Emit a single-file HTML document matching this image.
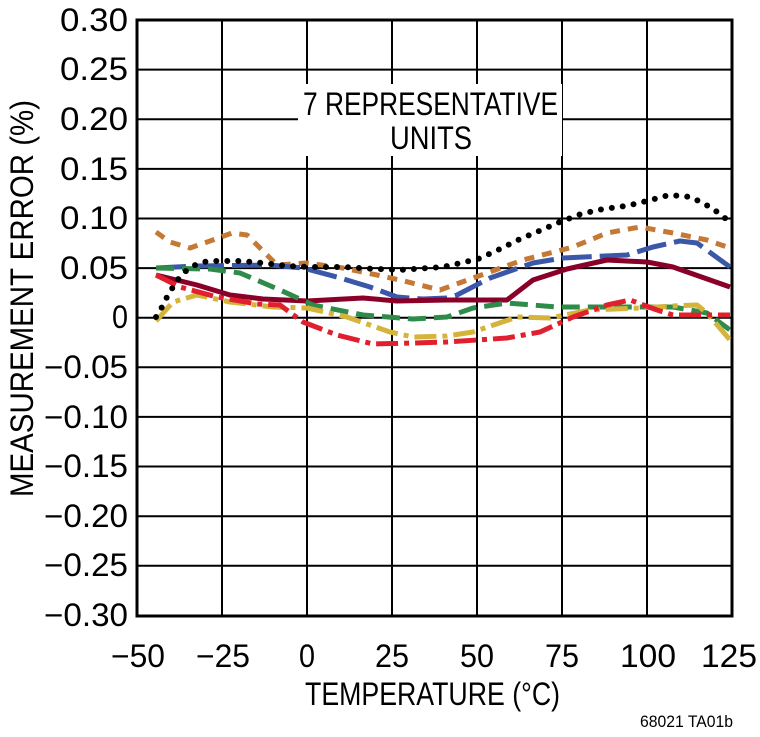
<!DOCTYPE html>
<html><head><meta charset="utf-8"><style>
html,body{margin:0;padding:0;background:#fff;}
svg{display:block;font-family:"Liberation Sans",sans-serif;}
</style></head><body>
<svg width="760" height="737" viewBox="0 0 760 737" xmlns="http://www.w3.org/2000/svg">
<g stroke="#000" stroke-width="2">
<line x1="222" y1="20" x2="222" y2="616"/><line x1="307" y1="20" x2="307" y2="616"/>
<line x1="392" y1="20" x2="392" y2="616"/><line x1="477" y1="20" x2="477" y2="616"/>
<line x1="562" y1="20" x2="562" y2="616"/><line x1="647" y1="20" x2="647" y2="616"/>
<line x1="137" y1="69.6" x2="732" y2="69.6"/><line x1="137" y1="119.2" x2="732" y2="119.2"/>
<line x1="137" y1="168.9" x2="732" y2="168.9"/><line x1="137" y1="218.5" x2="732" y2="218.5"/>
<line x1="137" y1="268.1" x2="732" y2="268.1"/><line x1="137" y1="317.7" x2="732" y2="317.7"/>
<line x1="137" y1="367.3" x2="732" y2="367.3"/><line x1="137" y1="416.9" x2="732" y2="416.9"/>
<line x1="137" y1="466.5" x2="732" y2="466.5"/><line x1="137" y1="516.2" x2="732" y2="516.2"/>
<line x1="137" y1="565.8" x2="732" y2="565.8"/>
</g>
<rect x="137" y="20" width="595" height="596" fill="none" stroke="#000" stroke-width="3"/>
<rect x="298" y="84" width="264" height="72" fill="#fff"/>
<g font-size="32" fill="#000">
<text x="303" y="115" textLength="255" lengthAdjust="spacingAndGlyphs">7 REPRESENTATIVE</text>
<text x="390" y="149" textLength="82" lengthAdjust="spacingAndGlyphs">UNITS</text>
</g>
<g fill="none" stroke-width="5" stroke-linejoin="round" stroke-linecap="butt">
<polyline stroke="#c47a35" stroke-dasharray="10,8" points="156,232 170,242 190,248 210,241 232,233 247,235 262,250 277,265 307,263 343,268 377,275 400,280 440,290 473,278 523,260 573,247 607,233 640,227 673,233 707,240 730,248"/>
<polyline stroke="#3b57a8" stroke-dasharray="30,8" points="156,268 197,266 270,265 303,268 337,277 370,287 397,297 423,299 447,298 457,295 490,278 533,263 563,258 627,255 653,247 680,241 697,243 730,267"/>
<polyline stroke="#8a0028" points="156,275 197,285 230,295 263,299 307,301 363,298 397,301 447,300 507,300 533,280 567,269 607,260 647,262 673,267 730,287"/>
<polyline stroke="#2e8b4a" stroke-dasharray="18,8" points="156,268 210,269 240,273 280,290 313,305 363,315 413,319 447,317 473,308 507,303 557,307 607,307 673,307 707,313 730,330"/>
<polyline stroke="#d4b43a" stroke-dasharray="22,6,5,6" points="156,321 173,302 197,295 230,302 273,307 307,308 347,317 390,332 413,337 447,336 473,332 517,317 550,318 590,310 640,308 673,306 697,305 707,313 730,340"/>
<polyline stroke="#e0202e" stroke-dasharray="22,6,5,6" points="156,275 180,287 217,297 257,304 280,305 303,322 337,335 373,344 413,343 447,342 507,338 540,332 573,317 607,305 630,300 657,310 673,315 730,315"/>
<polyline stroke="#000" stroke-width="6" stroke-linecap="round" stroke-dasharray="0,11" points="156,317 162,307 167,297 173,287 179,278 187,270 197,264 208,261 219,261 242,261 263,263 287,266 310,267 343,267 377,269 400,270 443,267 478,259 498,250 518,240 539,231 560,222 581,214 603,209 626,206 647,201 669,195 691,197 712,208 730,222"/>
</g>
<g font-size="32" fill="#000" text-anchor="end">
<text x="128" y="31" textLength="68" lengthAdjust="spacingAndGlyphs">0.30</text>
<text x="128" y="80" textLength="68" lengthAdjust="spacingAndGlyphs">0.25</text>
<text x="128" y="130" textLength="68" lengthAdjust="spacingAndGlyphs">0.20</text>
<text x="128" y="180" textLength="68" lengthAdjust="spacingAndGlyphs">0.15</text>
<text x="128" y="229" textLength="68" lengthAdjust="spacingAndGlyphs">0.10</text>
<text x="128" y="279" textLength="68" lengthAdjust="spacingAndGlyphs">0.05</text>
<text x="128" y="328" textLength="16" lengthAdjust="spacingAndGlyphs">0</text>
<text x="128" y="378" textLength="84" lengthAdjust="spacingAndGlyphs">−0.05</text>
<text x="128" y="428" textLength="84" lengthAdjust="spacingAndGlyphs">−0.10</text>
<text x="128" y="477" textLength="84" lengthAdjust="spacingAndGlyphs">−0.15</text>
<text x="128" y="527" textLength="84" lengthAdjust="spacingAndGlyphs">−0.20</text>
<text x="128" y="576" textLength="84" lengthAdjust="spacingAndGlyphs">−0.25</text>
<text x="128" y="626" textLength="84" lengthAdjust="spacingAndGlyphs">−0.30</text>
</g>
<g font-size="32" fill="#000" text-anchor="middle">
<text x="138" y="667" textLength="54" lengthAdjust="spacingAndGlyphs">−50</text>
<text x="223" y="667" textLength="54" lengthAdjust="spacingAndGlyphs">−25</text>
<text x="307" y="667" textLength="16" lengthAdjust="spacingAndGlyphs">0</text>
<text x="392" y="667" textLength="34" lengthAdjust="spacingAndGlyphs">25</text>
<text x="477" y="667" textLength="34" lengthAdjust="spacingAndGlyphs">50</text>
<text x="562" y="667" textLength="34" lengthAdjust="spacingAndGlyphs">75</text>
<text x="648" y="667" textLength="56" lengthAdjust="spacingAndGlyphs">100</text>
<text x="729" y="667" textLength="56" lengthAdjust="spacingAndGlyphs">125</text>
</g>
<text x="305" y="705" font-size="32" textLength="255" lengthAdjust="spacingAndGlyphs">TEMPERATURE (°C)</text>
<text transform="translate(33,497) rotate(-90)" font-size="32" textLength="397" lengthAdjust="spacingAndGlyphs">MEASUREMENT ERROR (%)</text>
<text x="640" y="727" font-size="17" textLength="93" lengthAdjust="spacingAndGlyphs">68021 TA01b</text>
</svg>
</body></html>
